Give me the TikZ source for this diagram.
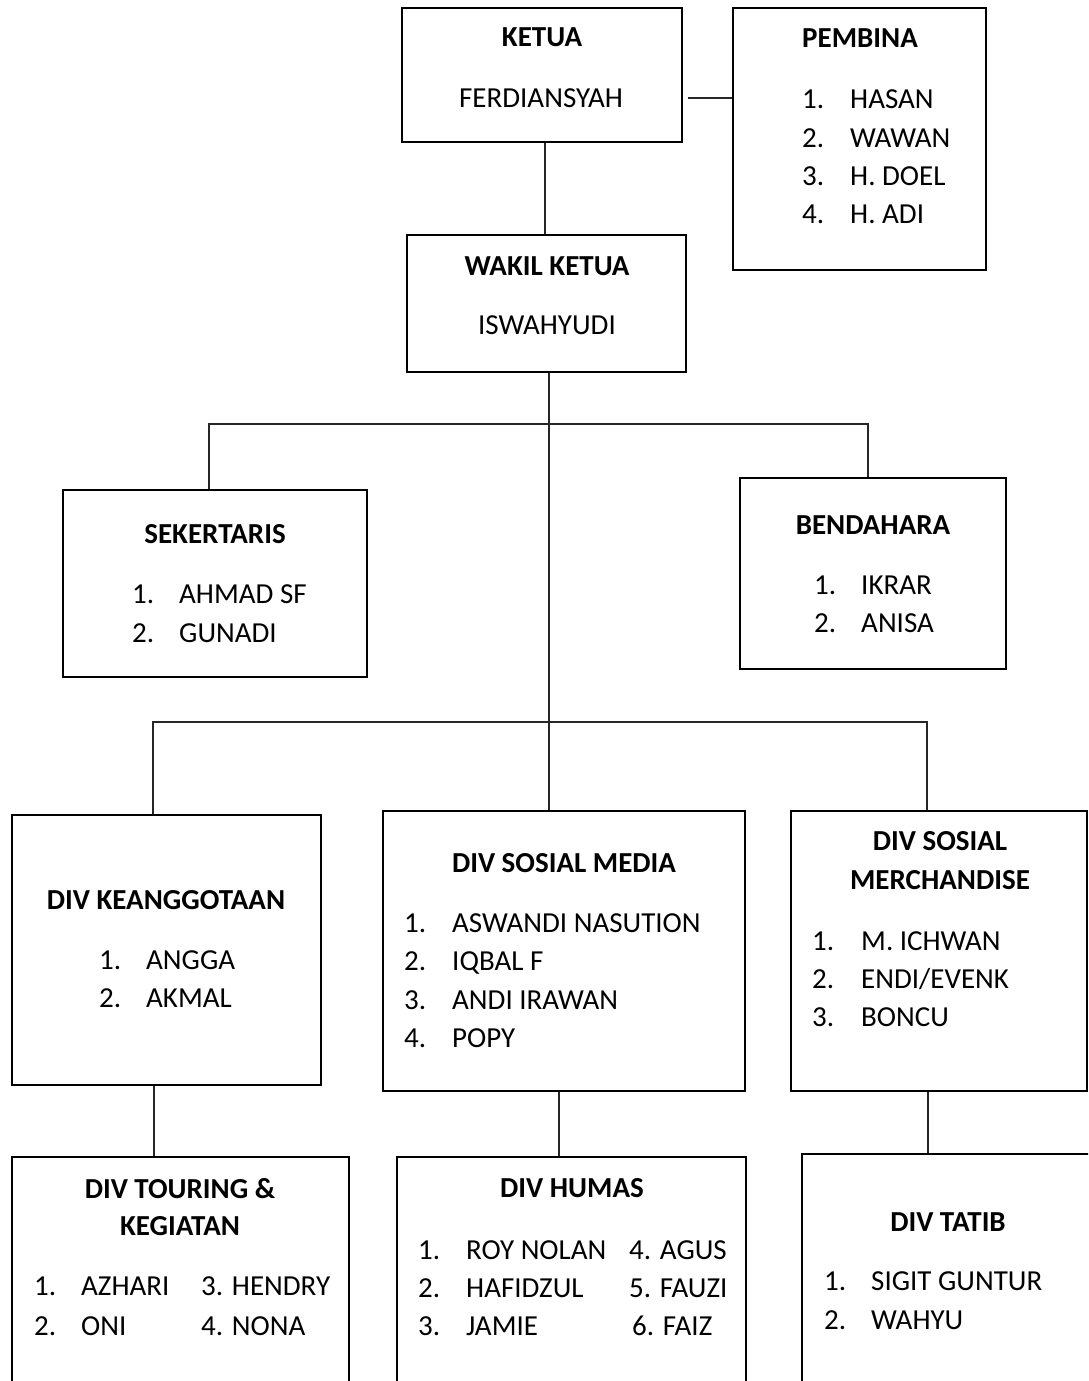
\documentclass[tikz,border=0pt]{standalone}
\usepackage{fontspec}
\setmainfont{Carlito}
\begin{document}
\begin{tikzpicture}[x=1pt,y=-1pt,
  box/.style={draw=black, line width=2.8pt, inner sep=0pt, rectangle},
  ttl/.style={font=\fontsize{29}{35}\selectfont\bfseries, anchor=base, inner sep=0pt},
  nm/.style={font=\fontsize{29}{35}\selectfont, anchor=base, inner sep=0pt},
  itm/.style={font=\fontsize{29}{35}\selectfont, anchor=base west, inner sep=0pt},
  link/.style={line width=1.4pt, draw=black!85}]
\useasboundingbox (0,0) rectangle (1088,1381);
\clip (0,0) rectangle (1088,1381);

% boxes
\node[box, minimum width=280pt, minimum height=134pt] (ketua) at (542,75) {};
\node[box, minimum width=253pt, minimum height=262pt] (pemb) at (859.5,139) {};
\node[box, minimum width=279pt, minimum height=137pt] (wakil) at (546.5,303.5) {};
\node[box, minimum width=304pt, minimum height=187pt] (sek) at (215,583.5) {};
\node[box, minimum width=266pt, minimum height=191pt] (bend) at (873,573.5) {};
\node[box, minimum width=309pt, minimum height=270pt] (keang) at (166.5,950) {};
\node[box, minimum width=362pt, minimum height=280pt] (sosmed) at (564,951) {};
\node[box, minimum width=296pt, minimum height=280pt] (merch) at (939,951) {};
\node[box, minimum width=337pt, minimum height=263pt] (tour) at (180.5,1288.5) {};
\node[box, minimum width=349pt, minimum height=263pt] (humas) at (571.5,1288.5) {};
\node[box, minimum width=292pt, minimum height=266pt] (tatib) at (948,1287) {};

% connector helper coordinates
\coordinate (jk) at (545,0);
\coordinate (jp) at (0,98);
\coordinate (jt) at (549,0);
\coordinate (b1) at (209,424);
\coordinate (b2) at (868,424);
\coordinate (c1) at (153,722);
\coordinate (c2) at (927,722);
\coordinate (d1) at (154,0);
\coordinate (d2) at (559,0);
\coordinate (d3) at (928,0);

\draw[link] (ketua.south -| jk) -- (wakil.north -| jk);
\draw[link] ([xshift=5pt]ketua.east |- jp) -- (pemb.west |- jp);
\draw[link] (wakil.south -| jt) -- (sosmed.north -| jt);
\draw[link] (sek.north -| b1) -- (b1) -- (b2) -- (bend.north -| b2);
\draw[link] (keang.north -| c1) -- (c1) -- (c2) -- (merch.north -| c2);
\draw[link] (keang.south -| d1) -- (tour.north -| d1);
\draw[link] (sosmed.south -| d2) -- (humas.north -| d2);
\draw[link] (merch.south -| d3) -- (tatib.north -| d3);

% KETUA
\node[ttl] (ketuaT) at (542,47) {KETUA};
\node[nm] (ketuaN) at (541,107) {FERDIANSYAH};
% PEMBINA
\node[ttl] (pembT) at (860,48) {PEMBINA};
\node[itm] (p1n) at (802,108) {1.};
\node[itm] (p1) at (850,108) {HASAN};
\node[itm] (p2n) at (802,147) {2.};
\node[itm] (p2) at (850,147) {WAWAN};
\node[itm] (p3n) at (802,185) {3.};
\node[itm] (p3) at (850,185) {H. DOEL};
\node[itm] (p4n) at (802,223) {4.};
\node[itm] (p4) at (850,223) {H. ADI};
% WAKIL
\node[ttl] (wakilT) at (547,275) {WAKIL KETUA};
\node[nm] (wakilN) at (547,334) {ISWAHYUDI};
% SEKERTARIS
\node[ttl] (sekT) at (215,543) {SEKERTARIS};
\node[itm] (s1n) at (132,603) {1.};
\node[itm] (s1) at (179,603) {AHMAD SF};
\node[itm] (s2n) at (132,642) {2.};
\node[itm] (s2) at (179,642) {GUNADI};
% BENDAHARA
\node[ttl] (bendT) at (873,534) {BENDAHARA};
\node[itm] (e1n) at (814,594) {1.};
\node[itm] (e1) at (861,594) {IKRAR};
\node[itm] (e2n) at (814,632) {2.};
\node[itm] (e2) at (861,632) {ANISA};
% KEANGGOTAAN
\node[ttl] (keangT) at (166,909) {DIV KEANGGOTAAN};
\node[itm] (k1n) at (99,969) {1.};
\node[itm] (k1) at (146,969) {ANGGA};
\node[itm] (k2n) at (99,1007) {2.};
\node[itm] (k2) at (146,1007) {AKMAL};
% SOSIAL MEDIA
\node[ttl] (sosT) at (564,872) {DIV SOSIAL MEDIA};
\node[itm] (m1n) at (404,932) {1.};
\node[itm] (m1) at (452,932) {ASWANDI NASUTION};
\node[itm] (m2n) at (404,970.5) {2.};
\node[itm] (m2) at (452,970.5) {IQBAL F};
\node[itm] (m3n) at (404,1009) {3.};
\node[itm] (m3) at (452,1009) {ANDI IRAWAN};
\node[itm] (m4n) at (404,1047.5) {4.};
\node[itm] (m4) at (452,1047.5) {POPY};
% MERCHANDISE
\node[ttl] (merT1) at (940,850) {DIV SOSIAL};
\node[ttl] (merT2) at (940,889) {MERCHANDISE};
\node[itm] (r1n) at (812,950) {1.};
\node[itm] (r1) at (861,950) {M. ICHWAN};
\node[itm] (r2n) at (812,988) {2.};
\node[itm] (r2) at (861,988) {ENDI/EVENK};
\node[itm] (r3n) at (812,1026) {3.};
\node[itm] (r3) at (861,1026) {BONCU};
% TOURING
\node[ttl] (tourT1) at (180,1198) {DIV TOURING \&};
\node[ttl] (tourT2) at (180,1235) {KEGIATAN};
\node[itm] (t1n) at (34,1295) {1.};
\node[itm] (t1) at (81,1295) {AZHARI};
\node[itm] (t3) at (201,1295) {3. HENDRY};
\node[itm] (t2n) at (34,1335) {2.};
\node[itm] (t2) at (81,1335) {ONI};
\node[itm] (t4) at (201,1335) {4. NONA};
% HUMAS
\node[ttl] (humT) at (572,1197) {DIV HUMAS};
\node[itm] (h1n) at (418,1259) {1.};
\node[itm] (h1) at (466,1259) {ROY NOLAN};
\node[itm] (h4) at (629,1259) {4. AGUS};
\node[itm] (h2n) at (418,1297) {2.};
\node[itm] (h2) at (466,1297) {HAFIDZUL};
\node[itm] (h5) at (629,1297) {5. FAUZI};
\node[itm] (h3n) at (418,1335) {3.};
\node[itm] (h3) at (466,1335) {JAMIE};
\node[itm] (h6) at (632,1335) {6. FAIZ};
% TATIB
\node[ttl] (tatT) at (948,1231) {DIV TATIB};
\node[itm] (a1n) at (824,1290) {1.};
\node[itm] (a1) at (871,1290) {SIGIT GUNTUR};
\node[itm] (a2n) at (824,1329) {2.};
\node[itm] (a2) at (871,1329) {WAHYU};
\end{tikzpicture}
\end{document}
